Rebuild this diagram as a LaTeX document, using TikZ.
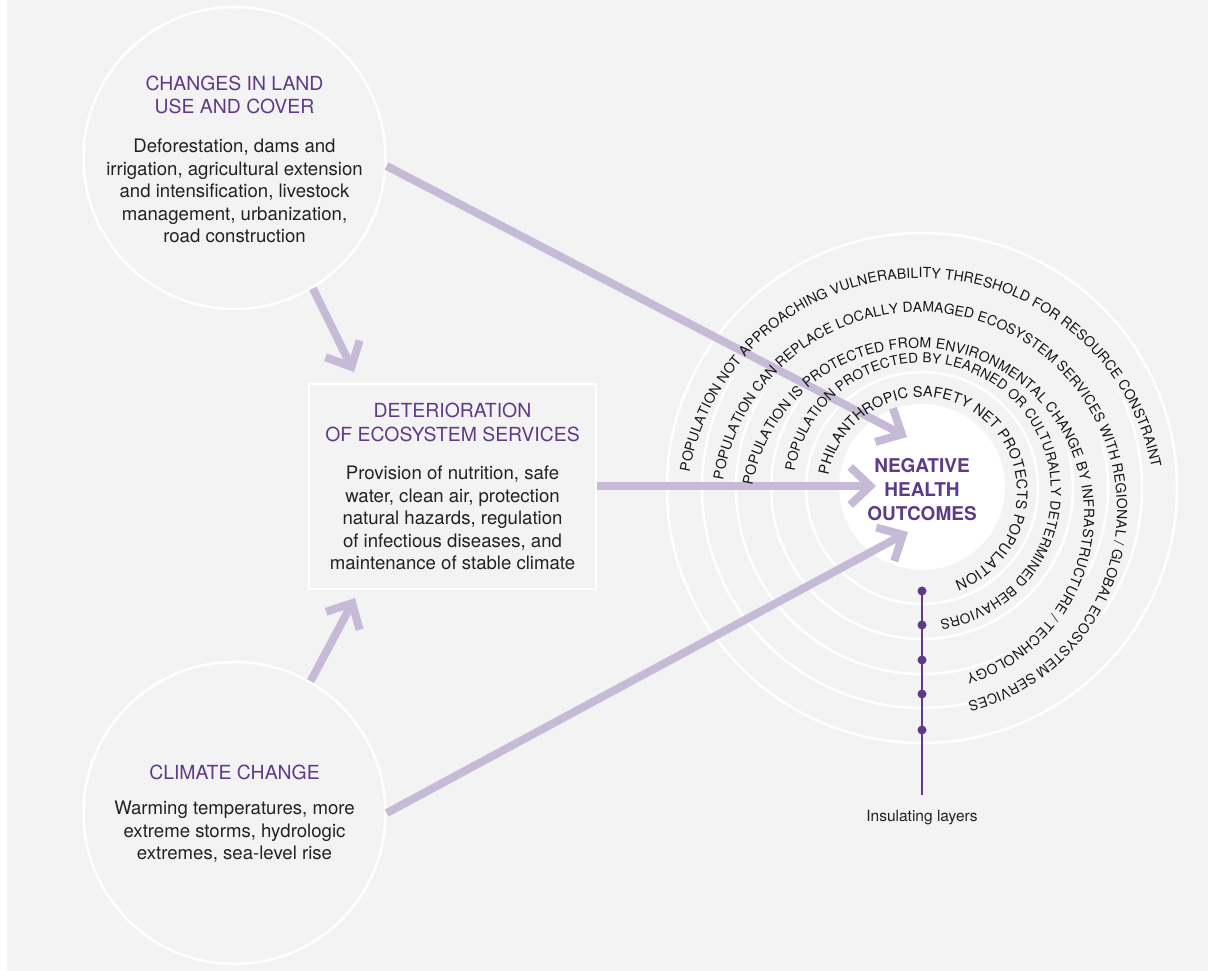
\documentclass[tikz,border=0pt]{standalone}
\usepackage{fontspec}
\setmainfont{TeX Gyre Heros}
\usetikzlibrary{arrows.meta,decorations.text}

\definecolor{bggray}{HTML}{F3F3F3}
\definecolor{purp}{HTML}{5E3A88}
\definecolor{lilac}{HTML}{C7BAD6}
\definecolor{inkgray}{HTML}{222222}
\definecolor{ringink}{HTML}{161616}

\newcommand{\bodysize}{\fontsize{18.6}{22.5}\selectfont}
\newcommand{\headsize}{\fontsize{19.4}{23.5}\selectfont}
\newcommand{\outsize}{\fontsize{19}{24}\selectfont\bfseries}
\newcommand{\labelsize}{\fontsize{15.5}{18}\selectfont}

\begin{document}
\begin{tikzpicture}[x=1pt, y=1pt,
    ring/.style     = {draw=white, line width=2.5pt},
    knock/.style    = {draw=bggray, line width=15pt},
    ringtext/.style 2 args = {decorate, decoration={text along path,
        text align=fit to path, text color=ringink, text={|\fontsize{#1}{16}\selectfont|#2}}},
    bubble/.style   = {circle, draw=white, line width=2.5pt, minimum size=302pt, inner sep=0pt},
    panel/.style    = {draw=white, line width=2pt, minimum width=287pt, minimum height=205pt, inner sep=0pt},
    headtext/.style = {align=center, text=purp, font=\headsize, inner sep=0pt},
    bodytext/.style = {align=center, text=inkgray, font=\bodysize, inner sep=0pt},
    flow/.style     = {draw=lilac, line width=8pt,
        -{Straight Barb[length=20pt, width=38pt, line join=miter, line cap=butt]}},
    dot/.style      = {circle, fill=purp, minimum size=9pt, inner sep=0pt},
  ]
  % background
  \useasboundingbox (0,0) rectangle (1208,-971);
  \fill[white] (0,0) rectangle (7,-971);
  \fill[bggray] (7,0) rectangle (1208,-971);

  % drivers
  \node[bubble] (land) at (234.5,-158) {};
  \node[headtext] (landhead) at (234.5,-95) {CHANGES IN LAND\\USE AND COVER};
  \node[bodytext] (landbody) at (234.5,-191) {Deforestation, dams and\\irrigation, agricultural extension\\and intensification, livestock\\management, urbanization,\\road construction};

  \node[bubble] (climate) at (234.5,-813) {};
  \node[headtext] (climatehead) at (234.5,-772) {CLIMATE CHANGE};
  \node[bodytext] (climatebody) at (234.5,-832) {Warming temperatures, more\\extreme storms, hydrologic\\extremes, sea-level rise};

  \node[panel] (deter) at (452.5,-486) {};
  \node[headtext] (deterhead) at (452.5,-422.5) {DETERIORATION\\OF ECOSYSTEM SERVICES};
  \node[bodytext] (deterbody) at (452.5,-518) {Provision of nutrition, safe\\water, clean air, protection\\natural hazards, regulation\\of infectious diseases, and\\maintenance of stable climate};

  % insulating rings
  \foreach \r in {116,151,186,220,255} {
    \draw[ring] (922,-488) circle[radius=\r pt];
  }
  \node[circle, fill=white, minimum size=166pt, inner sep=0pt] (outcome) at (922,-487) {};

  % gaps in the rings under the ring texts
  \draw[knock, shift={(922,-492)}] (170:100pt) arc[start angle=170, end angle=-70, radius=100pt];
  \draw[knock, shift={(922,-492)}] (171:134pt) arc[start angle=171, end angle=-82, radius=134pt];
  \draw[knock, shift={(917,-515)}] (170:172pt) arc[start angle=170, end angle=-73, radius=172pt];
  \draw[knock, shift={(919,-510)}] (171.3:203pt) arc[start angle=171.3, end angle=-75.7, radius=203pt];
  \draw[knock, shift={(921,-513)}] (170:240pt) arc[start angle=170, end angle=11, radius=240pt];

  % arrows
  \coordinate (tipA) at (354,-372);
  \coordinate (tipB) at (355,-598);
  \coordinate (tipC) at (876,-486);
  \coordinate (tipD) at (907,-437);
  \coordinate (tipE) at (908,-532);
  \draw[flow] (land.-59) -- (tipA);
  \draw[flow] (climate.60) -- (tipB);
  \draw[flow] (deter.east) -- (tipC);
  \draw[flow] (land.-3) -- (tipD);
  \draw[flow] (climate.0) -- (tipE);

  % ring texts
  \path[ringtext={14.5}{PHILANTHROPIC SAFETY NET PROTECTS POPULATION}, shift={(922,-492)}]
    (170:95pt) arc[start angle=170, end angle=-70, radius=95pt];
  \path[ringtext={13.6}{POPULATION PROTECTED BY LEARNED OR CULTURALLY DETERMINED BEHAVIORS}, shift={(922,-492)}]
    (171:129pt) arc[start angle=171, end angle=-82, radius=129pt];
  \path[ringtext={14}{POPULATION IS PROTECTED FROM ENVIRONMENTAL CHANGE BY INFRASTRUCTURE / TECHNOLOGY}, shift={(917,-515)}]
    (170:167pt) arc[start angle=170, end angle=-73, radius=167pt];
  \path[ringtext={13.9}{POPULATION CAN REPLACE LOCALLY DAMAGED ECOSYSTEM SERVICES WITH REGIONAL / GLOBAL ECOSYSTEM SERVICES}, shift={(919,-510)}]
    (171.3:198pt) arc[start angle=171.3, end angle=-75.7, radius=198pt];
  \path[ringtext={14}{POPULATION NOT APPROACHING VULNERABILITY THRESHOLD FOR RESOURCE CONSTRAINT}, shift={(921,-513)}]
    (170:235pt) arc[start angle=170, end angle=11, radius=235pt];

  \node[align=center, text=purp, font=\outsize, inner sep=0pt] (outcometext) at (922,-490) {NEGATIVE\\HEALTH\\OUTCOMES};

  % insulating layers scale
  \coordinate (layerend) at (922,-795);
  \foreach \y [count=\i] in {591,625,660,694,730} {
    \node[dot] (lay\i) at (922,-\y) {};
  }
  \draw[purp, line width=2.5pt] (lay1.center) -- (layerend);
  \node[text=inkgray, font=\labelsize, inner sep=0pt] (layerlabel) at (922,-818) {Insulating layers};
\end{tikzpicture}
\end{document}
